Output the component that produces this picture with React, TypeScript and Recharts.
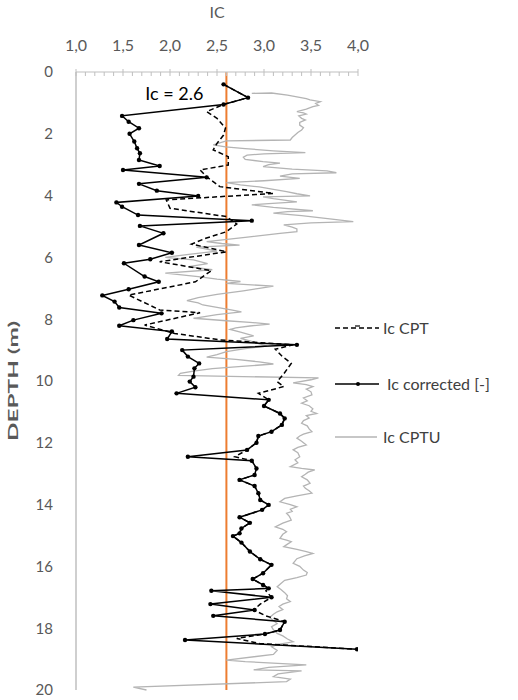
import { ReferenceLine, Scatter, ScatterChart, XAxis, YAxis } from "recharts";

const FONT = "Lato, 'Open Sans', sans-serif";
const AXIS_GREY = "#bfbfbf";
const TEXT_GREY = "#595959";

// Ic scale ticks (every 0.1, labels only on the halves)
const X_TICKS = [
  1, 1.1, 1.2, 1.3, 1.4, 1.5, 1.6, 1.7, 1.8, 1.9, 2, 2.1, 2.2, 2.3, 2.4, 2.5, 2.6, 2.7, 2.8, 2.9, 3,
  3.1, 3.2, 3.3, 3.4, 3.5, 3.6, 3.7, 3.8, 3.9, 4,
];
const DEPTH_TICKS = [0, 2, 4, 6, 8, 10, 12, 14, 16, 18, 20];
const IC_LIMIT = 2.6;

// [depth (m), Ic]
const IC_CORRECTED: [number, number][] = [
  [0.4, 2.57], [0.83, 2.83], [1.05, 2.57], [1.42, 1.49], [1.61, 1.56], [1.82, 1.67], [2.0, 1.57],
  [2.25, 1.62], [2.47, 1.65], [2.63, 1.68], [2.85, 1.67], [3.04, 1.89], [3.17, 1.5], [3.41, 2.39],
  [3.62, 1.67], [3.84, 1.86], [4.01, 2.3], [4.22, 1.43], [4.36, 1.49], [4.63, 1.66], [4.81, 2.87],
  [4.98, 1.68], [5.22, 1.93], [5.6, 1.67], [5.85, 2.02], [6.06, 1.79], [6.19, 1.51], [6.62, 1.73],
  [6.79, 1.88], [7.03, 1.56], [7.23, 1.28], [7.43, 1.41], [7.62, 1.46], [7.81, 1.91], [8.03, 1.61],
  [8.21, 1.46], [8.4, 2.02], [8.64, 1.97], [8.83, 3.35], [9.0, 2.13], [9.21, 2.19], [9.43, 2.31],
  [9.59, 2.26], [9.86, 2.25], [10.02, 2.21], [10.2, 2.27], [10.4, 2.07], [10.61, 3.05], [10.81, 3.0],
  [11.05, 3.17], [11.21, 3.22], [11.42, 3.19], [11.64, 3.08], [11.78, 2.94], [12.0, 2.92],
  [12.23, 2.82], [12.45, 2.19], [12.58, 2.87], [12.83, 2.92], [13.04, 2.9], [13.2, 2.74], [13.4, 2.9],
  [13.63, 2.94], [13.85, 2.96], [14.01, 3.05], [14.17, 2.98], [14.41, 2.74], [14.59, 2.85],
  [14.77, 2.76], [14.93, 2.74], [15.02, 2.67], [15.23, 2.76], [15.52, 2.85], [15.77, 2.96],
  [15.95, 3.08], [16.22, 2.99], [16.41, 2.88], [16.6, 2.99], [16.71, 3.05], [16.79, 2.44],
  [17.0, 3.08], [17.22, 2.43], [17.41, 2.9], [17.6, 2.46], [17.79, 3.22], [18.06, 3.17], [18.19, 3.01],
  [18.38, 2.16], [18.68, 3.99],
];

const IC_CPT: [number, number][] = [
  [0.4, 2.57], [0.83, 2.83], [1.05, 2.57], [1.28, 2.39], [1.5, 2.5], [1.81, 2.59], [2.04, 2.57],
  [2.31, 2.5], [2.52, 2.46], [2.74, 2.62], [3.01, 2.62], [3.17, 2.32], [3.39, 2.39], [3.71, 2.53],
  [3.93, 3.1], [4.14, 1.96], [4.41, 2.0], [4.68, 2.6], [4.92, 2.71], [5.17, 2.6], [5.38, 2.38],
  [5.57, 2.23], [5.82, 2.6], [6.14, 1.89], [6.43, 2.44], [6.79, 2.27], [7.22, 1.56], [7.7, 1.89],
  [7.79, 2.32], [8.19, 1.73], [8.46, 2.05], [8.67, 2.53], [8.83, 3.31], [8.97, 3.12], [9.19, 3.19],
  [9.43, 3.29], [9.77, 3.21], [10.02, 3.14], [10.18, 3.21], [10.4, 2.94], [10.61, 3.05], [10.81, 3.0],
  [11.05, 3.17], [11.21, 3.22], [11.42, 3.19], [11.64, 3.08], [11.78, 2.94], [12.0, 2.92],
  [12.23, 2.82], [12.45, 2.69], [12.58, 2.87], [12.83, 2.92], [13.04, 2.9], [13.2, 2.74], [13.4, 2.9],
  [13.63, 2.94], [13.85, 2.96], [14.01, 3.05], [14.17, 2.98], [14.41, 2.74], [14.59, 2.85],
  [14.77, 2.76], [14.93, 2.74], [15.02, 2.67], [15.23, 2.76], [15.52, 2.85], [15.77, 2.96],
  [15.95, 3.08], [16.22, 2.99], [16.41, 2.88], [16.6, 2.99], [16.71, 3.05], [16.79, 3.02],
  [17.0, 3.08], [17.22, 2.96], [17.41, 2.89], [17.6, 3.02], [17.79, 3.22], [18.06, 3.17], [18.19, 3.01],
  [18.33, 2.71], [18.5, 2.96], [18.68, 3.99],
];

const IC_CPTU: [number, number][] = [
  [0.69, 2.87], [0.68, 3.08], [0.75, 3.25], [0.86, 3.45], [0.9, 3.49], [0.96, 3.6], [1.02, 3.55],
  [1.08, 3.58], [1.12, 3.52], [1.2, 3.45], [1.28, 3.35], [1.32, 3.42], [1.36, 3.45], [1.42, 3.37],
  [1.5, 3.4], [1.55, 3.44], [1.63, 3.38], [1.72, 3.38], [1.8, 3.42], [1.88, 3.4], [1.96, 3.36],
  [2.04, 3.33], [2.12, 3.3], [2.2, 3.28], [2.23, 2.6], [2.3, 2.52], [2.36, 2.46], [2.42, 2.59],
  [2.48, 2.8], [2.55, 3.1], [2.61, 3.44], [2.65, 3.0], [2.69, 2.82], [2.76, 2.78], [2.83, 2.8],
  [2.9, 2.99], [2.95, 3.17], [3.0, 3.05], [3.06, 2.99], [3.14, 3.3], [3.2, 3.67], [3.26, 3.77],
  [3.3, 3.3], [3.37, 3.17], [3.44, 3.38], [3.52, 3.0], [3.58, 2.6], [3.65, 2.75], [3.72, 2.95],
  [3.8, 3.1], [3.87, 3.24], [3.94, 3.35], [4.01, 3.49], [4.04, 2.99], [4.1, 3.1], [4.2, 3.35],
  [4.26, 3.05], [4.3, 2.87], [4.38, 3.1], [4.49, 3.52], [4.52, 3.25], [4.57, 3.1], [4.65, 3.4],
  [4.75, 3.7], [4.84, 3.95], [4.88, 3.5], [4.95, 3.21], [5.02, 3.3], [5.08, 3.35], [5.17, 3.35],
  [5.22, 3.17], [5.35, 2.8], [5.49, 2.39], [5.55, 2.55], [5.6, 2.74], [5.67, 2.28], [5.8, 2.5],
  [5.9, 2.2], [6.0, 1.95], [6.08, 2.25], [6.2, 2.4], [6.3, 2.2], [6.4, 2.45], [6.51, 1.95],
  [6.62, 2.3], [6.7, 2.5], [6.78, 2.75], [6.84, 2.6], [6.93, 3.1], [7.0, 2.95], [7.08, 2.78],
  [7.2, 2.5], [7.3, 2.3], [7.4, 2.18], [7.47, 2.3], [7.54, 2.35], [7.62, 2.5], [7.7, 2.65],
  [7.76, 2.76], [7.85, 2.5], [7.97, 2.25], [8.05, 2.6], [8.1, 2.85], [8.16, 3.06], [8.22, 2.85],
  [8.28, 2.7], [8.33, 2.64], [8.42, 2.75], [8.54, 2.89], [8.62, 2.75], [8.7, 2.85], [8.8, 2.95],
  [8.87, 3.03], [8.95, 2.8], [9.05, 2.6], [9.15, 2.5], [9.23, 2.39], [9.3, 2.7], [9.38, 2.95],
  [9.45, 3.1], [9.52, 2.8], [9.6, 2.45], [9.68, 2.25], [9.75, 2.11], [9.82, 2.09], [9.9, 3.58],
  [9.96, 3.5], [10.06, 3.31], [10.12, 3.45], [10.18, 3.52], [10.26, 3.45], [10.35, 3.5],
  [10.45, 3.51], [10.55, 3.42], [10.64, 3.46], [10.72, 3.4], [10.8, 3.48], [10.9, 3.52], [10.98, 3.5],
  [11.05, 3.56], [11.12, 3.45], [11.2, 3.48], [11.28, 3.42], [11.37, 3.4], [11.45, 3.46],
  [11.55, 3.48], [11.64, 3.51], [11.72, 3.42], [11.78, 3.38], [11.85, 3.35], [11.95, 3.4],
  [12.07, 3.45], [12.15, 3.36], [12.23, 3.31], [12.32, 3.36], [12.45, 3.38], [12.55, 3.33],
  [12.65, 3.36], [12.77, 3.28], [12.83, 3.4], [12.88, 3.54], [12.95, 3.47], [13.02, 3.44],
  [13.1, 3.4], [13.2, 3.46], [13.31, 3.49], [13.4, 3.42], [13.47, 3.44], [13.55, 3.48], [13.63, 3.51],
  [13.72, 3.35], [13.8, 3.22], [13.91, 3.17], [14.0, 3.28], [14.07, 3.35], [14.15, 3.28],
  [14.22, 3.3], [14.28, 3.24], [14.38, 3.27], [14.5, 3.29], [14.6, 3.2], [14.72, 3.12], [14.8, 3.2],
  [14.88, 3.24], [14.96, 3.2], [15.09, 3.17], [15.15, 3.24], [15.2, 3.29], [15.28, 3.25],
  [15.36, 3.21], [15.45, 3.35], [15.52, 3.45], [15.58, 3.52], [15.66, 3.43], [15.75, 3.35],
  [15.9, 3.31], [16.0, 3.38], [16.12, 3.42], [16.2, 3.46], [16.28, 3.45], [16.36, 3.35],
  [16.45, 3.22], [16.55, 3.18], [16.66, 3.14], [16.75, 3.18], [16.85, 3.22], [16.95, 3.25],
  [17.05, 3.24], [17.14, 3.28], [17.22, 3.2], [17.3, 3.16], [17.4, 3.2], [17.47, 3.14], [17.55, 3.1],
  [17.65, 3.06], [17.75, 3.1], [17.85, 3.14], [17.95, 3.08], [18.05, 3.1], [18.17, 3.14],
  [18.25, 3.2], [18.35, 3.25], [18.44, 3.31], [18.52, 3.15], [18.6, 3.08], [18.72, 3.14],
  [18.85, 3.1], [19.03, 2.6], [19.08, 2.8], [19.19, 3.45], [19.27, 3.05], [19.35, 2.89],
  [19.38, 3.4], [19.48, 3.15], [19.57, 3.1], [19.65, 3.28], [19.73, 3.24], [19.91, 1.61],
  [20.0, 1.75],
];

const toRows = (pairs: [number, number][]) => pairs.map(([depth, ic]) => ({ depth, ic }));

function TopTick({ x, y, payload }: any) {
  const v = payload.value as number;
  const major = Math.abs(v * 2 - Math.round(v * 2)) < 1e-6;
  return (
    <g>
      <line x1={x} x2={x} y1={major ? y - 3 : y} y2={y + 4} stroke={AXIS_GREY} />
      {major && (
        <text x={x} y={y - 21} textAnchor="middle" fill={TEXT_GREY} fontSize={16} fontFamily={FONT}>
          {v.toFixed(1).replace(".", ",")}
        </text>
      )}
    </g>
  );
}

// the depth title is drawn stretched along its length, as in the source figure
function DepthLabel(props: any) {
  const vb = props.viewBox ?? { y: 72, height: 618 };
  const cy = vb.y + vb.height / 2;
  return (
    <text
      transform={`translate(18 ${cy}) rotate(-90) scale(1.95 1)`}
      textAnchor="middle"
      fill={TEXT_GREY}
      fontSize={12.5}
      fontWeight={700}
      fontFamily={FONT}
    >
      DEPTH (m)
    </text>
  );
}

function LegendItem({ top, label, kind }: { top: number; label: string; kind: "cpt" | "corr" | "cptu" }) {
  return (
    <div style={{ position: "absolute", left: 335, top, display: "flex", alignItems: "center" }}>
      <svg width={kind === "corr" ? 50 : 46} height={12}>
        {kind === "cpt" && (
          <>
            <line x1={0} x2={44} y1={6} y2={6} stroke="#000" strokeWidth={1.5} strokeDasharray="5 3" />
            <line x1={20} x2={25} y1={4} y2={4} stroke="#000" strokeWidth={1.2} />
          </>
        )}
        {kind === "corr" && (
          <>
            <line x1={0} x2={44} y1={6} y2={6} stroke="#000" strokeWidth={1.5} />
            <circle cx={23} cy={6} r={2} fill="#000" />
          </>
        )}
        {kind === "cptu" && <line x1={0} x2={42} y1={6} y2={6} stroke="#b4b4b4" strokeWidth={1.3} />}
      </svg>
      <span style={{ fontFamily: FONT, fontSize: 16, color: "#404040", marginLeft: 2 }}>{label}</span>
    </div>
  );
}

export default function App() {
  return (
    <div style={{ position: "relative", width: 518, height: 700, background: "#fff" }}>
      <style>{"body{margin:0}"}</style>
      <ScatterChart width={518} height={700} margin={{ top: 0, right: 160, bottom: 10, left: 0 }}>
        <XAxis
          type="number"
          dataKey="ic"
          domain={[1, 4]}
          orientation="top"
          ticks={X_TICKS}
          interval={0}
          height={72}
          tick={<TopTick />}
          tickLine={false}
          tickSize={0}
          tickMargin={0}
          axisLine={{ stroke: AXIS_GREY }}
          allowDataOverflow
          label={{ value: "IC", position: "insideTop", offset: 7, fill: TEXT_GREY, fontSize: 16, fontFamily: FONT }}
        />
        <YAxis
          type="number"
          dataKey="depth"
          domain={[0, 20]}
          reversed
          ticks={DEPTH_TICKS}
          interval={0}
          width={76}
          tickLine={false}
          tickSize={0}
          tickMargin={23}
          axisLine={{ stroke: AXIS_GREY, strokeWidth: 1.5 }}
          tick={{ fill: TEXT_GREY, fontSize: 15, fontFamily: FONT }}
          label={<DepthLabel />}
        />
        <Scatter
          name="Ic CPTU"
          data={toRows(IC_CPTU)}
          fill="#b4b4b4"
          line={{ stroke: "#b4b4b4", strokeWidth: 1.3 }}
          shape={() => <g />}
          isAnimationActive={false}
        />
        <Scatter
          name="Ic CPT"
          data={toRows(IC_CPT)}
          fill="#000"
          line={{ stroke: "#000", strokeWidth: 1.5, strokeDasharray: "5 3" }}
          shape={() => <g />}
          isAnimationActive={false}
        />
        <Scatter
          name="Ic corrected [-]"
          data={toRows(IC_CORRECTED)}
          fill="#000"
          line={{ stroke: "#000", strokeWidth: 1.5 }}
          shape={(p: any) => <circle cx={p.cx} cy={p.cy} r={2.2} fill="#000" />}
          isAnimationActive={false}
        />
        <ReferenceLine
          x={IC_LIMIT}
          stroke="#ED7D31"
          strokeWidth={2}
          label={(props: any) => (
            <text
              x={props.viewBox.x - 23}
              y={props.viewBox.y + 28}
              textAnchor="end"
              fontSize={18}
              fontFamily={FONT}
              fill="#000"
            >
              Ic = 2.6
            </text>
          )}
        />
      </ScatterChart>
      <LegendItem top={318} label="Ic CPT" kind="cpt" />
      <LegendItem top={374} label="Ic corrected [-]" kind="corr" />
      <LegendItem top={427} label="Ic CPTU" kind="cptu" />
    </div>
  );
}
